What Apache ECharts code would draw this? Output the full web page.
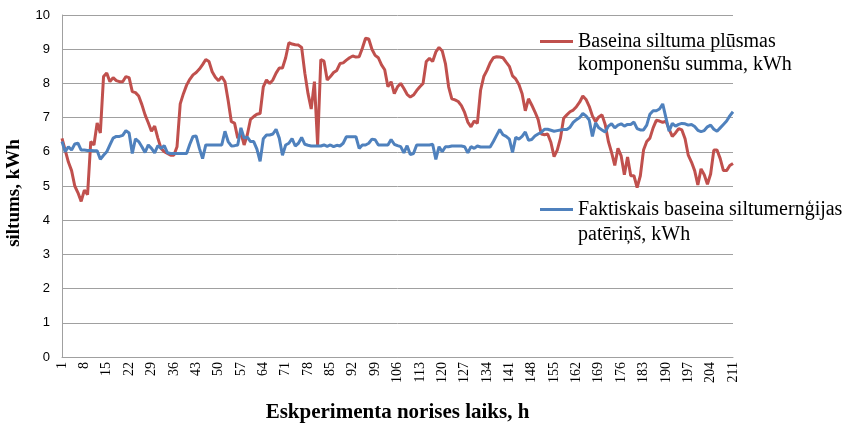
<!DOCTYPE html>
<html>
<head>
<meta charset="utf-8">
<script src="https://cdn.jsdelivr.net/npm/echarts@6/dist/echarts.min.js"></script>
<style>
html,body{margin:0;padding:0;background:#fff;}
#chart{width:843px;height:427px;}
</style>
</head>
<body>
<div id="chart"></div>
<script>
// x categories: hours 1..211
const hours = [];
for (let h = 1; h <= 211; h++) hours.push(String(h));

const yTicks = [0,1,2,3,4,5,6,7,8,9,10];

const redName = 'Baseina siltuma plūsmas komponenšu summa, kWh';
const blueName = 'Faktiskais baseina siltumernģijas patēriņš, kWh';

const redValues = [
6.39,6.05,5.7,5.45,5.0,4.8,4.55,4.88,4.75,6.3,
6.2,6.84,6.55,8.2,8.3,8.05,8.17,8.08,8.05,8.05,
8.2,8.17,7.76,7.73,7.63,7.38,7.08,6.85,6.6,6.75,
6.4,6.1,6.0,5.95,5.9,5.9,6.15,7.4,7.7,7.95,
8.12,8.25,8.32,8.42,8.55,8.7,8.64,8.34,8.18,8.08,
8.2,8.05,7.5,6.88,6.84,6.4,6.55,6.2,6.5,6.95,
7.03,7.1,7.12,7.9,8.1,8.0,8.1,8.3,8.45,8.45,
8.75,9.19,9.15,9.13,9.12,9.05,8.3,7.7,7.25,8.05,
6.2,8.7,8.65,8.1,8.2,8.32,8.38,8.58,8.6,8.68,
8.75,8.8,8.77,8.78,9.03,9.32,9.3,9.0,8.82,8.75,
8.54,8.4,7.9,8.05,7.7,7.9,8.0,7.85,7.68,7.6,
7.66,7.79,7.9,8.0,8.64,8.73,8.64,8.92,9.05,8.95,
8.58,7.9,7.55,7.52,7.47,7.35,7.15,6.87,6.73,6.9,
6.83,7.8,8.2,8.38,8.6,8.75,8.78,8.77,8.75,8.62,
8.5,8.22,8.13,7.97,7.7,7.2,7.55,7.37,7.17,6.95,
6.52,6.5,6.52,6.28,5.86,6.05,6.4,6.98,7.08,7.17,
7.22,7.32,7.45,7.63,7.53,7.33,7.05,6.88,7.02,7.08,
6.8,6.3,5.98,5.6,6.1,5.88,5.33,5.85,5.3,5.3,
4.95,5.3,6.05,6.3,6.4,6.7,6.92,6.9,6.86,6.9,
6.66,6.45,6.55,6.68,6.64,6.38,5.9,5.7,5.45,5.03,
5.5,5.33,5.05,5.35,6.05,6.05,5.8,5.45,5.45,5.6,
5.66
];

const blueValues = [
6.3,6.0,6.15,6.05,6.23,6.25,6.05,6.05,6.04,6.04,
6.03,6.03,5.78,5.9,6.0,6.2,6.4,6.45,6.45,6.48,
6.62,6.55,5.95,6.38,6.3,6.15,5.98,6.2,6.1,5.97,
6.18,6.1,6.18,5.97,5.95,5.95,5.95,5.95,5.95,5.95,
6.22,6.45,6.46,6.1,5.8,6.2,6.2,6.2,6.2,6.2,
6.2,6.6,6.3,6.17,6.18,6.2,6.7,6.4,6.43,6.3,
6.3,6.08,5.72,6.38,6.49,6.49,6.52,6.66,6.4,5.9,
6.2,6.25,6.39,6.17,6.25,6.42,6.22,6.19,6.17,6.17,
6.17,6.17,6.2,6.16,6.2,6.15,6.19,6.17,6.25,6.44,
6.44,6.44,6.44,6.1,6.2,6.2,6.25,6.37,6.35,6.2,
6.2,6.2,6.2,6.36,6.22,6.18,6.15,5.97,6.18,5.92,
5.95,6.2,6.2,6.2,6.2,6.2,6.22,5.78,6.15,6.0,
6.15,6.15,6.17,6.17,6.17,6.17,6.15,5.97,6.15,6.1,
6.17,6.14,6.14,6.14,6.14,6.3,6.48,6.65,6.5,6.45,
6.37,5.98,6.42,6.37,6.45,6.58,6.34,6.36,6.46,6.52,
6.57,6.66,6.66,6.63,6.6,6.62,6.64,6.65,6.65,6.72,
6.86,6.94,7.0,7.12,7.05,6.93,6.45,6.85,6.7,6.64,
6.58,6.75,6.82,6.7,6.78,6.82,6.75,6.8,6.8,6.87,
6.68,6.64,6.64,6.78,7.1,7.2,7.2,7.25,7.4,7.0,
6.6,6.83,6.75,6.8,6.83,6.82,6.78,6.8,6.74,6.63,
6.59,6.62,6.73,6.78,6.66,6.6,6.7,6.8,6.9,7.05,
7.17
];

const legendLabels = {};
legendLabels[redName] = 'Baseina siltuma plūsmas\nkomponenšu summa, kWh';
legendLabels[blueName] = 'Faktiskais baseina siltumernģijas\npatēriņš, kWh';

const chart = echarts.init(document.getElementById('chart'), null, {renderer: 'canvas'});
const serif = '"Liberation Serif", "Times New Roman", serif';
const sans = '"Liberation Sans", Arial, sans-serif';
const gridColor = '#a0a0a0';

function legendFor(name, top, lh) {
  return {
    data: [{name: name, icon: 'rect'}],
    left: 540,
    top: top,
    padding: 0,
    itemWidth: 33,
    itemHeight: 3,
    selectedMode: false,
    formatter: function (n) { return ' \n' + legendLabels[n]; },
    textStyle: {fontFamily: serif, fontSize: 20, lineHeight: lh, color: '#000'}
  };
}

chart.setOption({
  animation: false,
  backgroundColor: '#fff',
  grid: {left: 62, right: 110, top: 15, bottom: 70, containLabel: false, outerBoundsMode: 'none'},
  legend: [legendFor(redName, 7, 23), legendFor(blueName, 172, 25)],
  xAxis: {
    type: 'category',
    data: hours,
    boundaryGap: false,
    name: 'Eskperimenta norises laiks, h',
    nameLocation: 'middle',
    nameGap: 45,
    nameTextStyle: {fontFamily: serif, fontSize: 21, fontWeight: 'bold', color: '#000'},
    axisLine: {show: true, lineStyle: {color: gridColor, width: 1}},
    axisTick: {show: false},
    axisLabel: {interval: 6, rotate: 90, fontFamily: serif, fontSize: 14, color: '#000', margin: 5},
    splitLine: {show: false}
  },
  yAxis: {
    type: 'value',
    min: yTicks[0],
    max: yTicks[yTicks.length - 1],
    interval: 1,
    name: 'siltums, kWh',
    nameLocation: 'middle',
    nameRotate: 90,
    nameGap: 38,
    nameTextStyle: {fontFamily: serif, fontSize: 19, fontWeight: 'bold', color: '#000', padding: [0, 14, 0, 0]},
    axisLine: {show: true, lineStyle: {color: gridColor, width: 1}},
    axisTick: {show: false},
    axisLabel: {fontFamily: sans, fontSize: 13, color: '#000', margin: 12},
    splitLine: {show: true, lineStyle: {color: gridColor, width: 1}}
  },
  series: [
    {
      name: redName, type: 'line', data: redValues, symbol: 'none',
      lineStyle: {color: '#C0504D', width: 3}, itemStyle: {color: '#C0504D'}
    },
    {
      name: blueName, type: 'line', data: blueValues, symbol: 'none',
      lineStyle: {color: '#4F81BD', width: 3}, itemStyle: {color: '#4F81BD'}
    }
  ]
});
</script>
</body>
</html>
